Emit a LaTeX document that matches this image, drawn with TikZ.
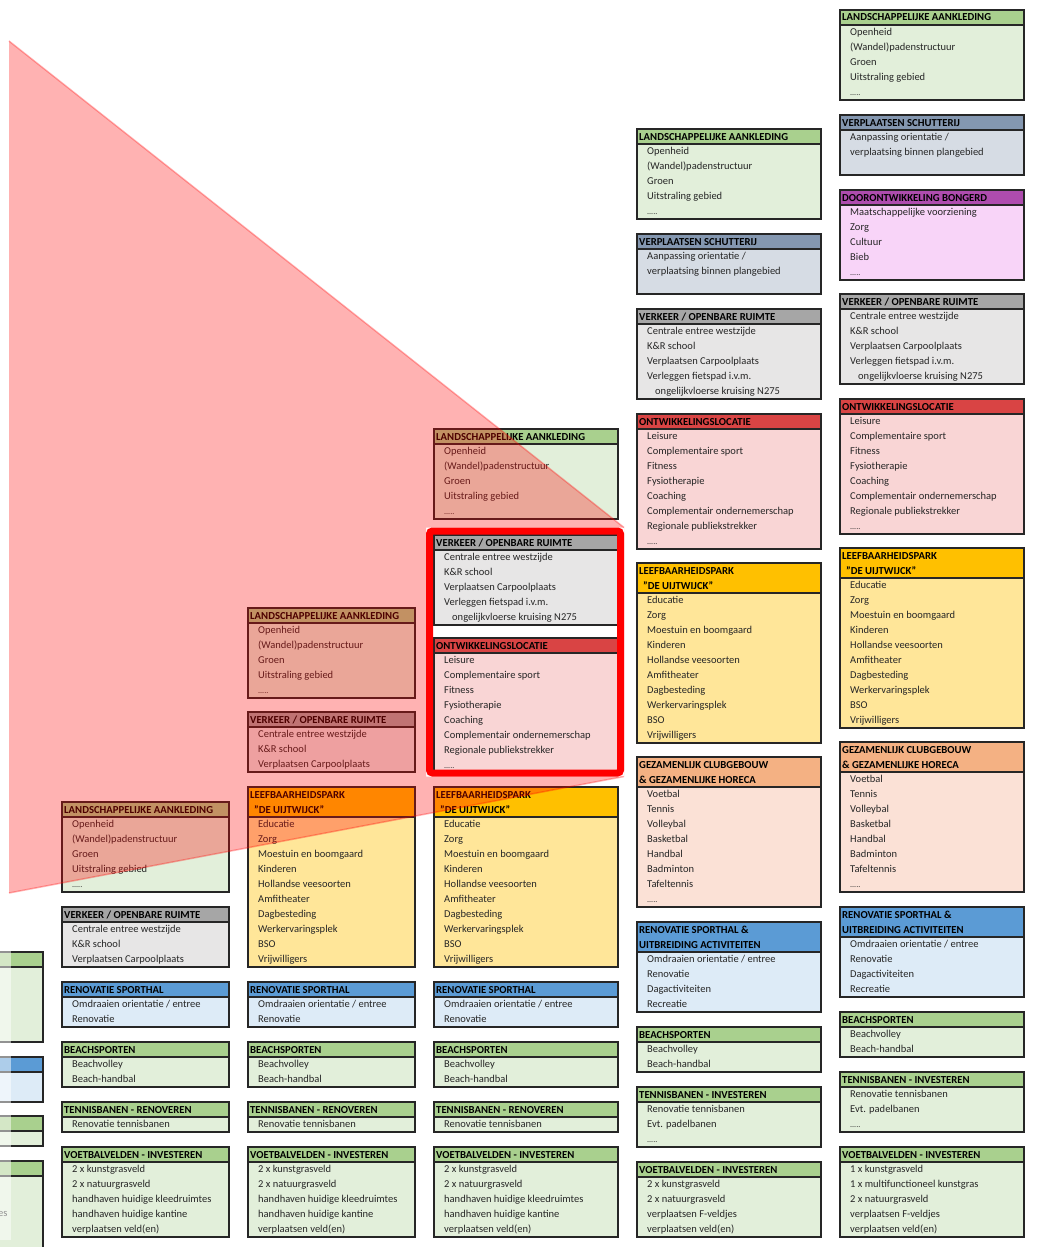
\documentclass[tikz,border=0pt]{standalone}
\usepackage{fontspec}
\setmainfont{Carlito}
\definecolor{groenK}{HTML}{A9D08E}
\definecolor{groenR}{HTML}{E2EFDA}
\definecolor{grijsK}{HTML}{A6A6A6}
\definecolor{grijsR}{HTML}{E7E6E6}
\definecolor{schutK}{HTML}{8497B0}
\definecolor{schutR}{HTML}{D6DCE4}
\definecolor{paarsK}{HTML}{AE4CAE}
\definecolor{paarsR}{HTML}{F8D4F8}
\definecolor{roodK}{HTML}{D94444}
\definecolor{roodR}{HTML}{F9D5D5}
\definecolor{goudK}{HTML}{FFC000}
\definecolor{goudR}{HTML}{FFE699}
\definecolor{zalmK}{HTML}{F4B183}
\definecolor{zalmR}{HTML}{FBE1D6}
\definecolor{blauwK}{HTML}{5B9BD5}
\definecolor{blauwR}{HTML}{DDEBF7}
\definecolor{tekst}{HTML}{262626}

\newcommand{\stip}{{\footnotesize .....}}
% #1 naam, #2 x, #3 y, #4 breedte, #5 kleur, #6 kopregels, #7 regels, #8 kop, #9 inhoud
\newcommand{\blok}[9]{%
	\node[vak, fill=#5K, minimum width=#4, minimum height=15*#6] (#1-kop) at (#2,#3) {};
	\node[vak, fill=#5R, minimum width=#4, minimum height=15*#7] (#1) at (#1-kop.south west) {};
	\foreach \regel [count=\nr] in {#8}
		\node[koptekst] (#1-k\nr) at (#2+2, #3+11+15*\nr-15) {\regel};
	\foreach \regel [count=\nr] in {#9}
		\node[regeltekst] (#1-r\nr) at (#2+10, #3+15*#6+10.5+15*\nr-15) {\regel};
}
\newcommand{\leeg}[7]{%
	\node[vak, fill=#5K, minimum width=#4, minimum height=15*#6] (#1-kop) at (#2,#3) {};
	\node[vak, fill=#5R, minimum width=#4, minimum height=15*#7] (#1) at (#1-kop.south west) {};
}

\begin{document}
\begin{tikzpicture}[x=1pt,y=-1pt]
		\tikzstyle{vak} = [draw=black!85, line width=1.3pt, anchor=north west, inner sep=0pt, outer sep=0pt]
		\tikzstyle{koptekst} = [anchor=base west, inner sep=0pt, text=black, font=\fontsize{10.7}{12}\bfseries\selectfont]
		\tikzstyle{regeltekst} = [anchor=base west, inner sep=0pt, text=tekst, font=\fontsize{10.5}{12}\selectfont]
		\tikzstyle{uitsnedevak} = [line width=7pt, rounded corners=3pt, minimum width=191, minimum height=242]

		\useasboundingbox (0,0) rectangle (1038,1247);
		\clip (0,0) rectangle (1038,1247);

		% afgesneden kolom links
		\leeg{z1}{-142}{952}{185}{groen}{1}{5}
		\leeg{z2}{-142}{1057}{185}{blauw}{1}{2}
		\leeg{z3}{-142}{1116}{185}{groen}{1}{1}
		\blok{z4}{-142}{1161}{185}{groen}{1}{5}{VOETBALVELDEN - INVESTEREN}{{}, {}, handhaven huidige kleedruimtes, {}, {}}
		\fill[white, fill opacity=0.5] (0,945) rectangle (11,1240);

		% kolom A
		\blok{a1}{62}{802}{167}{groen}{1}{5}{LANDSCHAPPELIJKE AANKLEDING}{Openheid, {(Wandel)padenstructuur}, Groen, Uitstraling gebied, \stip}
		\blok{a2}{62}{907}{167}{grijs}{1}{3}{VERKEER / OPENBARE RUIMTE}{Centrale entree westzijde, K\&R school, Verplaatsen Carpoolplaats}
		\blok{a3}{62}{982}{167}{blauw}{1}{2}{RENOVATIE SPORTHAL}{Omdraaien orientatie / entree, Renovatie}
		\blok{a4}{62}{1042}{167}{groen}{1}{2}{BEACHSPORTEN}{Beachvolley, Beach-handbal}
		\blok{a5}{62}{1102}{167}{groen}{1}{1}{TENNISBANEN - RENOVEREN}{Renovatie tennisbanen}
		\blok{a6}{62}{1147}{167}{groen}{1}{5}{VOETBALVELDEN - INVESTEREN}{2 x kunstgrasveld, 2 x natuurgrasveld, handhaven huidige kleedruimtes, handhaven huidige kantine, {verplaatsen veld(en)}}

		% kolom B
		\blok{b1}{248}{608}{167}{groen}{1}{5}{LANDSCHAPPELIJKE AANKLEDING}{Openheid, {(Wandel)padenstructuur}, Groen, Uitstraling gebied, \stip}
		\blok{b2}{248}{712}{167}{grijs}{1}{3}{VERKEER / OPENBARE RUIMTE}{Centrale entree westzijde, K\&R school, Verplaatsen Carpoolplaats}
		\blok{b3}{248}{787}{167}{goud}{2}{10}{LEEFBAARHEIDSPARK, {\hspace*{4pt}"DE UIJTWIJCK"}}{Educatie, Zorg, Moestuin en boomgaard, Kinderen, Hollandse veesoorten, Amfitheater, Dagbesteding, Werkervaringsplek, BSO, Vrijwilligers}
		\blok{b4}{248}{982}{167}{blauw}{1}{2}{RENOVATIE SPORTHAL}{Omdraaien orientatie / entree, Renovatie}
		\blok{b5}{248}{1042}{167}{groen}{1}{2}{BEACHSPORTEN}{Beachvolley, Beach-handbal}
		\blok{b6}{248}{1102}{167}{groen}{1}{1}{TENNISBANEN - RENOVEREN}{Renovatie tennisbanen}
		\blok{b7}{248}{1147}{167}{groen}{1}{5}{VOETBALVELDEN - INVESTEREN}{2 x kunstgrasveld, 2 x natuurgrasveld, handhaven huidige kleedruimtes, handhaven huidige kantine, {verplaatsen veld(en)}}

		% kolom C
		\blok{c1}{434}{429}{184}{groen}{1}{5}{LANDSCHAPPELIJKE AANKLEDING}{Openheid, {(Wandel)padenstructuur}, Groen, Uitstraling gebied, \stip}
		\blok{c4}{434}{787}{184}{goud}{2}{10}{LEEFBAARHEIDSPARK, {\hspace*{4pt}"DE UIJTWIJCK"}}{Educatie, Zorg, Moestuin en boomgaard, Kinderen, Hollandse veesoorten, Amfitheater, Dagbesteding, Werkervaringsplek, BSO, Vrijwilligers}
		\blok{c5}{434}{982}{184}{blauw}{1}{2}{RENOVATIE SPORTHAL}{Omdraaien orientatie / entree, Renovatie}
		\blok{c6}{434}{1042}{184}{groen}{1}{2}{BEACHSPORTEN}{Beachvolley, Beach-handbal}
		\blok{c7}{434}{1102}{184}{groen}{1}{1}{TENNISBANEN - RENOVEREN}{Renovatie tennisbanen}
		\blok{c8}{434}{1147}{184}{groen}{1}{5}{VOETBALVELDEN - INVESTEREN}{2 x kunstgrasveld, 2 x natuurgrasveld, handhaven huidige kleedruimtes, handhaven huidige kantine, {verplaatsen veld(en)}}

		% kolom D
		\blok{d1}{637}{129}{184}{groen}{1}{5}{LANDSCHAPPELIJKE AANKLEDING}{Openheid, {(Wandel)padenstructuur}, Groen, Uitstraling gebied, \stip}
		\blok{d2}{637}{234}{184}{schut}{1}{3}{VERPLAATSEN SCHUTTERIJ}{Aanpassing orientatie /, verplaatsing binnen plangebied}
		\blok{d3}{637}{309}{184}{grijs}{1}{5}{VERKEER / OPENBARE RUIMTE}{Centrale entree westzijde, K\&R school, Verplaatsen Carpoolplaats, Verleggen fietspad i.v.m., {\hspace*{8pt}ongelijkvloerse kruising N275}}
		\blok{d4}{637}{414}{184}{rood}{1}{8}{ONTWIKKELINGSLOCATIE}{Leisure, Complementaire sport, Fitness, Fysiotherapie, Coaching, Complementair ondernemerschap, Regionale publiekstrekker, \stip}
		\blok{d5}{637}{563}{184}{goud}{2}{10}{LEEFBAARHEIDSPARK, {\hspace*{4pt}"DE UIJTWIJCK"}}{Educatie, Zorg, Moestuin en boomgaard, Kinderen, Hollandse veesoorten, Amfitheater, Dagbesteding, Werkervaringsplek, BSO, Vrijwilligers}
		\blok{d6}{637}{757}{184}{zalm}{2}{8}{GEZAMENLIJK CLUBGEBOUW, \& GEZAMENLIJKE HORECA}{Voetbal, Tennis, Volleybal, Basketbal, Handbal, Badminton, Tafeltennis, \stip}
		\blok{d7}{637}{922}{184}{blauw}{2}{4}{RENOVATIE SPORTHAL \&, UITBREIDING ACTIVITEITEN}{Omdraaien orientatie / entree, Renovatie, Dagactiviteiten, Recreatie}
		\blok{d8}{637}{1027}{184}{groen}{1}{2}{BEACHSPORTEN}{Beachvolley, Beach-handbal}
		\blok{d9}{637}{1087}{184}{groen}{1}{3}{TENNISBANEN - INVESTEREN}{Renovatie tennisbanen, Evt. padelbanen, \stip}
		\blok{d10}{637}{1162}{184}{groen}{1}{4}{VOETBALVELDEN - INVESTEREN}{2 x kunstgrasveld, 2 x natuurgrasveld, verplaatsen F-veldjes, {verplaatsen veld(en)}}

		% kolom E
		\blok{e1}{840}{10}{184}{groen}{1}{5}{LANDSCHAPPELIJKE AANKLEDING}{Openheid, {(Wandel)padenstructuur}, Groen, Uitstraling gebied, \stip}
		\blok{e2}{840}{115}{184}{schut}{1}{3}{VERPLAATSEN SCHUTTERIJ}{Aanpassing orientatie /, verplaatsing binnen plangebied}
		\blok{e3}{840}{190}{184}{paars}{1}{5}{DOORONTWIKKELING BONGERD}{Maatschappelijke voorziening, Zorg, Cultuur, Bieb, \stip}
		\blok{e4}{840}{294}{184}{grijs}{1}{5}{VERKEER / OPENBARE RUIMTE}{Centrale entree westzijde, K\&R school, Verplaatsen Carpoolplaats, Verleggen fietspad i.v.m., {\hspace*{8pt}ongelijkvloerse kruising N275}}
		\blok{e5}{840}{399}{184}{rood}{1}{8}{ONTWIKKELINGSLOCATIE}{Leisure, Complementaire sport, Fitness, Fysiotherapie, Coaching, Complementair ondernemerschap, Regionale publiekstrekker, \stip}
		\blok{e6}{840}{548}{184}{goud}{2}{10}{LEEFBAARHEIDSPARK, {\hspace*{4pt}"DE UIJTWIJCK"}}{Educatie, Zorg, Moestuin en boomgaard, Kinderen, Hollandse veesoorten, Amfitheater, Dagbesteding, Werkervaringsplek, BSO, Vrijwilligers}
		\blok{e7}{840}{742}{184}{zalm}{2}{8}{GEZAMENLIJK CLUBGEBOUW, \& GEZAMENLIJKE HORECA}{Voetbal, Tennis, Volleybal, Basketbal, Handbal, Badminton, Tafeltennis, \stip}
		\blok{e8}{840}{907}{184}{blauw}{2}{4}{RENOVATIE SPORTHAL \&, UITBREIDING ACTIVITEITEN}{Omdraaien orientatie / entree, Renovatie, Dagactiviteiten, Recreatie}
		\blok{e9}{840}{1012}{184}{groen}{1}{2}{BEACHSPORTEN}{Beachvolley, Beach-handbal}
		\blok{e10}{840}{1072}{184}{groen}{1}{3}{TENNISBANEN - INVESTEREN}{Renovatie tennisbanen, Evt. padelbanen, \stip}
		\blok{e11}{840}{1147}{184}{groen}{1}{5}{VOETBALVELDEN - INVESTEREN}{1 x kunstgrasveld, 1 x multifunctioneel kunstgras, 2 x natuurgrasveld, verplaatsen F-veldjes, {verplaatsen veld(en)}}

		% uitsnede met rode rand
		\node[uitsnedevak, fill=white, anchor=north west] (uitsnede) at (426,527.5) {};
		\blok{c2}{434}{535}{184}{grijs}{1}{5}{VERKEER / OPENBARE RUIMTE}{Centrale entree westzijde, K\&R school, Verplaatsen Carpoolplaats, Verleggen fietspad i.v.m., {\hspace*{8pt}ongelijkvloerse kruising N275}}
		\blok{c3}{434}{638}{184}{rood}{1}{8}{ONTWIKKELINGSLOCATIE}{Leisure, Complementaire sport, Fitness, Fysiotherapie, Coaching, Complementair ondernemerschap, Regionale publiekstrekker, \stip}

		\coordinate (bron-boven) at (9,41);
		\coordinate (bron-onder) at (9,893);
		\fill[red, fill opacity=0.3, even odd rule] (bron-boven) -- (uitsnede.north east) -- (uitsnede.south east) -- (bron-onder) -- cycle
			(uitsnede.north west) rectangle (uitsnede.south east);
		\draw[red, draw opacity=0.3, line width=1.5pt] (bron-boven) -- (uitsnede.north east);
		\draw[red, draw opacity=0.3, line width=1.5pt] (bron-onder) -- (uitsnede.south east);
		\node[uitsnedevak, draw=red] (uitsnede-rand) at (uitsnede.center) {};

\end{tikzpicture}
\end{document}
